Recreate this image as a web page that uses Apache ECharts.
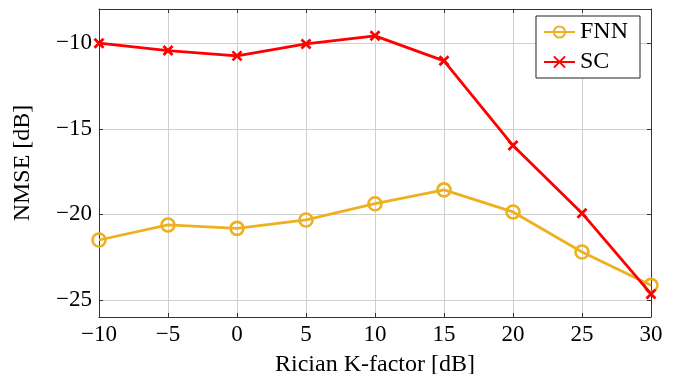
<!DOCTYPE html>
<html><head><meta charset="utf-8">
<script src="https://cdn.jsdelivr.net/npm/echarts@6/dist/echarts.min.js"></script>
<style>html,body{margin:0;padding:0;background:#fff}#c{width:677px;height:374px}</style>
</head><body><div id="c"></div>
<script>
const kFactor = [-10, -5, 0, 5, 10, 15, 20, 25, 30];
const fnn = [-21.5, -20.62, -20.82, -20.33, -19.38, -18.57, -19.86, -22.2, -24.15];
const sc = [-10.0, -10.43, -10.74, -10.04, -9.57, -11.03, -15.98, -19.93, -24.65];
const yTicks = [-25, -20, -15, -10];
const xTicks = [-10, -5, 0, 5, 10, 15, 20, 25, 30];

const FONT = 'Liberation Serif';
const fmt = v => (v < 0 ? '\u2212' + Math.abs(v) : String(v));
const chart = echarts.init(document.getElementById('c'), null, {renderer: 'canvas'});
const pair = arr => kFactor.map((k, i) => [k, arr[i]]);
const xPath = 'path://M0,0L10,10M10,0L0,10';

const xBase = {
  type: 'value', min: -10, max: 30, interval: 5,
  axisLine: {show: true, onZero: false, lineStyle: {color: '#333', width: 1}},
  axisTick: {show: true, inside: true, length: 4, lineStyle: {color: '#333'}},
  splitLine: {show: true, lineStyle: {color: '#d0d0d0', width: 1}},
};
const yBase = {
  type: 'value', min: -26, max: -8, splitNumber: 4,
  axisLine: {show: true, onZero: false, lineStyle: {color: '#333', width: 1}},
  axisTick: {show: true, inside: true, length: 4, lineStyle: {color: '#333'}},
  splitLine: {show: true, lineStyle: {color: '#d0d0d0', width: 1}},
};

chart.setOption({
  animation: false,
  backgroundColor: '#fff',
  grid: {left: 99, right: 26, top: 9, bottom: 57, show: false, containLabel: false, outerBoundsMode: 'none'},
  legend: {
    right: 37, top: 16, orient: 'vertical',
    backgroundColor: '#fff', borderColor: '#222', borderWidth: 1,
    padding: [4, 12, 4, 7], itemGap: 6, itemWidth: 31, itemHeight: 14,
    textStyle: {fontFamily: FONT, fontSize: 24, color: '#000'},
    data: ['FNN', 'SC']
  },
  xAxis: [
    Object.assign({}, xBase, {
      position: 'bottom',
      name: 'Rician K-factor [dB]', nameLocation: 'middle', nameGap: 36,
      nameTextStyle: {fontFamily: FONT, fontSize: 24, color: '#000'},
      axisLabel: {fontFamily: FONT, fontSize: 23, color: '#000', margin: 6, formatter: fmt}
    }),
    Object.assign({}, xBase, {position: 'top', axisLabel: {show: false}, splitLine: {show: false}})
  ],
  yAxis: [
    Object.assign({}, yBase, {
      position: 'left',
      name: 'NMSE [dB]', nameLocation: 'middle', nameGap: 64,
      nameTextStyle: {fontFamily: FONT, fontSize: 24, color: '#000'},
      axisLabel: {fontFamily: FONT, fontSize: 23, color: '#000', margin: 7, formatter: fmt,
                  showMinLabel: false, showMaxLabel: false}
    }),
    Object.assign({}, yBase, {position: 'right', axisLabel: {show: false}, splitLine: {show: false}})
  ],
  series: [
    {
      name: 'FNN', type: 'line', data: pair(fnn), xAxisIndex: 0, yAxisIndex: 0,
      symbol: 'circle', symbolSize: 13, showAllSymbol: true,
      lineStyle: {color: '#EDB120', width: 2.8},
      itemStyle: {color: 'rgba(255,255,255,0)', borderColor: '#EDB120', borderWidth: 2.6},
      z: 3
    },
    {
      name: 'SC', type: 'line', data: pair(sc), xAxisIndex: 0, yAxisIndex: 0,
      symbol: xPath, symbolSize: 9, showAllSymbol: true,
      lineStyle: {color: '#ff0000', width: 2.8},
      itemStyle: {color: '#ff0000', borderColor: '#ff0000', borderWidth: 2.8},
      z: 4
    }
  ]
});
</script></body></html>
